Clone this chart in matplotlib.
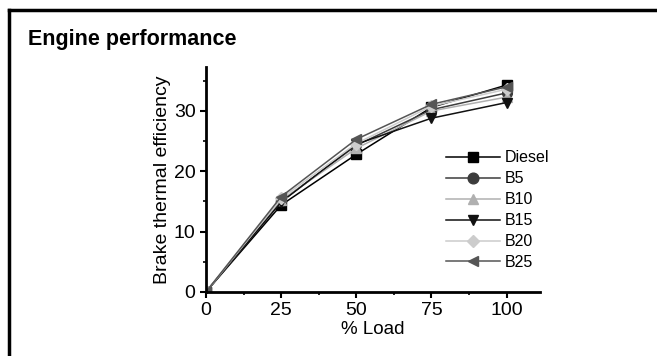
import matplotlib
matplotlib.use("Agg")
import matplotlib.pyplot as plt
from matplotlib.lines import Line2D
from matplotlib.ticker import MultipleLocator

plt.rcParams['font.family'] = ['Liberation Sans', 'DejaVu Sans']

# ---- data ----
load = [0, 25, 50, 75, 100]
diesel = [0, 14.4, 22.8, 30.6, 34.3]
b5 = [0, 15.0, 24.3, 30.2, 33.0]
b10 = [0, 15.2, 23.8, 30.0, 32.3]
b15 = [0, 14.9, 24.5, 28.8, 31.4]
b20 = [0, 15.5, 24.6, 30.8, 33.6]
b25 = [0, 15.8, 25.3, 31.1, 34.0]

series = [
    ("Diesel", diesel, "s", "#000000"),
    ("B5", b5, "o", "#3c3c3c"),
    ("B10", b10, "^", "#b0b0b0"),
    ("B15", b15, "v", "#111111"),
    ("B20", b20, "D", "#cccccc"),
    ("B25", b25, "<", "#555555"),
]

fig = plt.figure(figsize=(6.57, 3.56), dpi=100)
ax = fig.add_axes([0.3135, 0.18, 0.508, 0.632])

for name, vals, mk, col in series:
    ax.plot(load, vals, color=col, marker=mk, markersize=7 if mk != "D" else 6,
            linewidth=1.1, label=name)

ax.set_xlim(0, 111)
ax.set_ylim(0, 37.3)
ax.xaxis.set_major_locator(MultipleLocator(25))
ax.xaxis.set_minor_locator(MultipleLocator(12.5))
ax.yaxis.set_major_locator(MultipleLocator(10))
ax.yaxis.set_minor_locator(MultipleLocator(5))
ax.tick_params(which="major", direction="out", length=4, width=1.5, labelsize=14)
ax.tick_params(which="minor", direction="out", length=2.5, width=1.2)
for s in ("top", "right"):
    ax.spines[s].set_visible(False)
for s in ("left", "bottom"):
    ax.spines[s].set_linewidth(2)

ax.set_xlabel("% Load", fontsize=13.5, labelpad=1)
ax.set_ylabel("Brake thermal efficiency", fontsize=14, labelpad=2)

ax.legend(loc="upper left", bbox_to_anchor=(0.7, 0.657), frameon=False,
          fontsize=11.5, handlelength=3.4, labelspacing=0.37, handletextpad=0.3,
          borderaxespad=0, markerscale=1.1)

fig.text(28 / 657, 1 - 40 / 356, "Engine performance", fontsize=15.5,
         fontweight="bold", va="center", ha="left")

# partial frame around the panel (top and left edges)
fig.add_artist(Line2D([9 / 657, 1], [1 - 10 / 356] * 2, color="black", lw=2.5,
                      transform=fig.transFigure))
fig.add_artist(Line2D([9 / 657] * 2, [0, 1 - 10 / 356], color="black", lw=2.5,
                      transform=fig.transFigure))

fig.savefig("out.png", dpi=100)
